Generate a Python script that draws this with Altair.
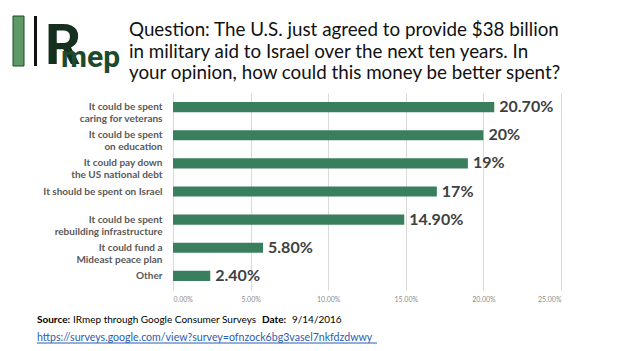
import altair as alt
import pandas as pd

# ---------------- data ----------------
categories = [
    "It could be spent|caring for veterans",
    "It could be spent|on education",
    "It could pay down|the US national debt",
    "It should be spent on Israel",
    "It could be spent|rebuilding infrastructure",
    "It could fund a|Mideast peace plan",
    "Other",
]
values = [0.207, 0.20, 0.19, 0.17, 0.149, 0.058, 0.024]
value_labels = ["20.70%", "20%", "19%", "17%", "14.90%", "5.80%", "2.40%"]
tick_values = [0.0, 0.05, 0.10, 0.15, 0.20, 0.25]

title_lines = [
    "Question: The U.S. just agreed to provide $38 billion",
    "in military aid to Israel over the next ten years. In",
    "your opinion, how could this money be better spent?",
]
source_parts = ["Source:", "IRmep through Google Consumer Surveys", "Date:", "9/14/2016"]
link_text = "https://surveys.google.com/view?survey=ofnzock6bg3vasel7nkfdzdwwy"

# ---------------- layout ----------------
X0, Y0 = 173, 93          # plot origin in page pixels
W, H = 388, 197           # plot area
FONT = "Lato"
BAR = "#3a7f5d"
LOGO = "#1d4a2c"

df = pd.DataFrame({"cat": categories, "val": values, "lab": value_labels})

y_enc = alt.Y(
    "cat:N",
    sort=categories,
    title=None,
    scale=alt.Scale(paddingInner=0.64, paddingOuter=0.32),
    axis=alt.Axis(
        labelExpr="split(datum.value, '|')",
        labelFont=FONT,
        labelFontSize=10,
        labelFontWeight="bold",
        labelColor="#595959",
        labelLineHeight=12,
        labelPadding=11,
        ticks=False,
        domainColor="#d9d9d9",
        domainWidth=1,
    ),
)
x_enc = alt.X(
    "val:Q",
    title=None,
    scale=alt.Scale(domain=[0, 0.25], nice=False),
    axis=alt.Axis(
        values=tick_values,
        format=".2%",
        labelFont=FONT,
        labelFontSize=7,
        labelColor="#8c8c8c",
        labelPadding=5,
        ticks=False,
        domain=False,
        gridColor="#d9d9d9",
        gridWidth=1,
    ),
)

bars = alt.Chart(df).mark_bar(color=BAR).encode(x=x_enc, y=y_enc)
vals = alt.Chart(df).mark_text(
    align="left", baseline="middle", dx=5, font=FONT, fontSize=16,
    fontWeight="bold", color="#404040"
).encode(x="val:Q", y=alt.Y("cat:N", sort=categories), text="lab:N")

one = alt.Data(values=[{"k": 1}])


def txt(s, px, py, size, weight="normal", color="#000000", font=FONT, align="left", baseline="alphabetic"):
    return alt.Chart(one).mark_text(
        text=s, align=align, baseline=baseline, font=font, fontSize=size,
        fontWeight=weight, color=color
    ).encode(x=alt.value(px - X0), y=alt.value(py - Y0))


def rect(x1, x2, y1, y2, fill, stroke=None):
    kw = {"fill": fill}
    if stroke:
        kw["stroke"] = stroke
        kw["strokeWidth"] = 1
    return alt.Chart(one).mark_rect(**kw).encode(
        x=alt.value(x1 - X0), x2=alt.value(x2 - X0),
        y=alt.value(y1 - Y0), y2=alt.value(y2 - Y0))


layers = [bars, vals]

# title
for i, line in enumerate(title_lines):
    layers.append(txt(line, 129, 36 + i * 21.5, 18.8, color="#111111"))

# logo
layers.append(rect(13, 24, 16, 66, "#5e9a66", LOGO))
layers.append(rect(34, 37, 16, 66, "#111111"))
layers.append(txt("R", 45, 64, 56, weight="bold", color="#16301f", font="Roboto"))
layers.append(txt("mep", 61, 67, 30, weight="bold", color=LOGO, font="Roboto"))

# source
layers.append(txt(source_parts[0], 37, 323, 10, weight="bold"))
layers.append(txt(source_parts[1], 73, 323, 10))
layers.append(txt(source_parts[2], 262, 323, 10, weight="bold"))
layers.append(txt(source_parts[3], 292, 323, 10))
layers.append(txt(link_text, 37, 341, 10.6, color="#2a5db0"))
layers.append(alt.Chart(one).mark_rule(color="#2a5db0", strokeWidth=1).encode(
    x=alt.value(37 - X0), x2=alt.value(377 - X0), y=alt.value(343 - Y0)))

chart = alt.layer(*layers).properties(
    width=W, height=H,
    autosize="none",
    padding={"left": X0, "top": Y0, "right": 623 - X0 - W, "bottom": 351 - Y0 - H},
    background="white",
).configure_view(stroke=None)

chart.save("out.html", embed_options={"renderer": "svg", "actions": False})
